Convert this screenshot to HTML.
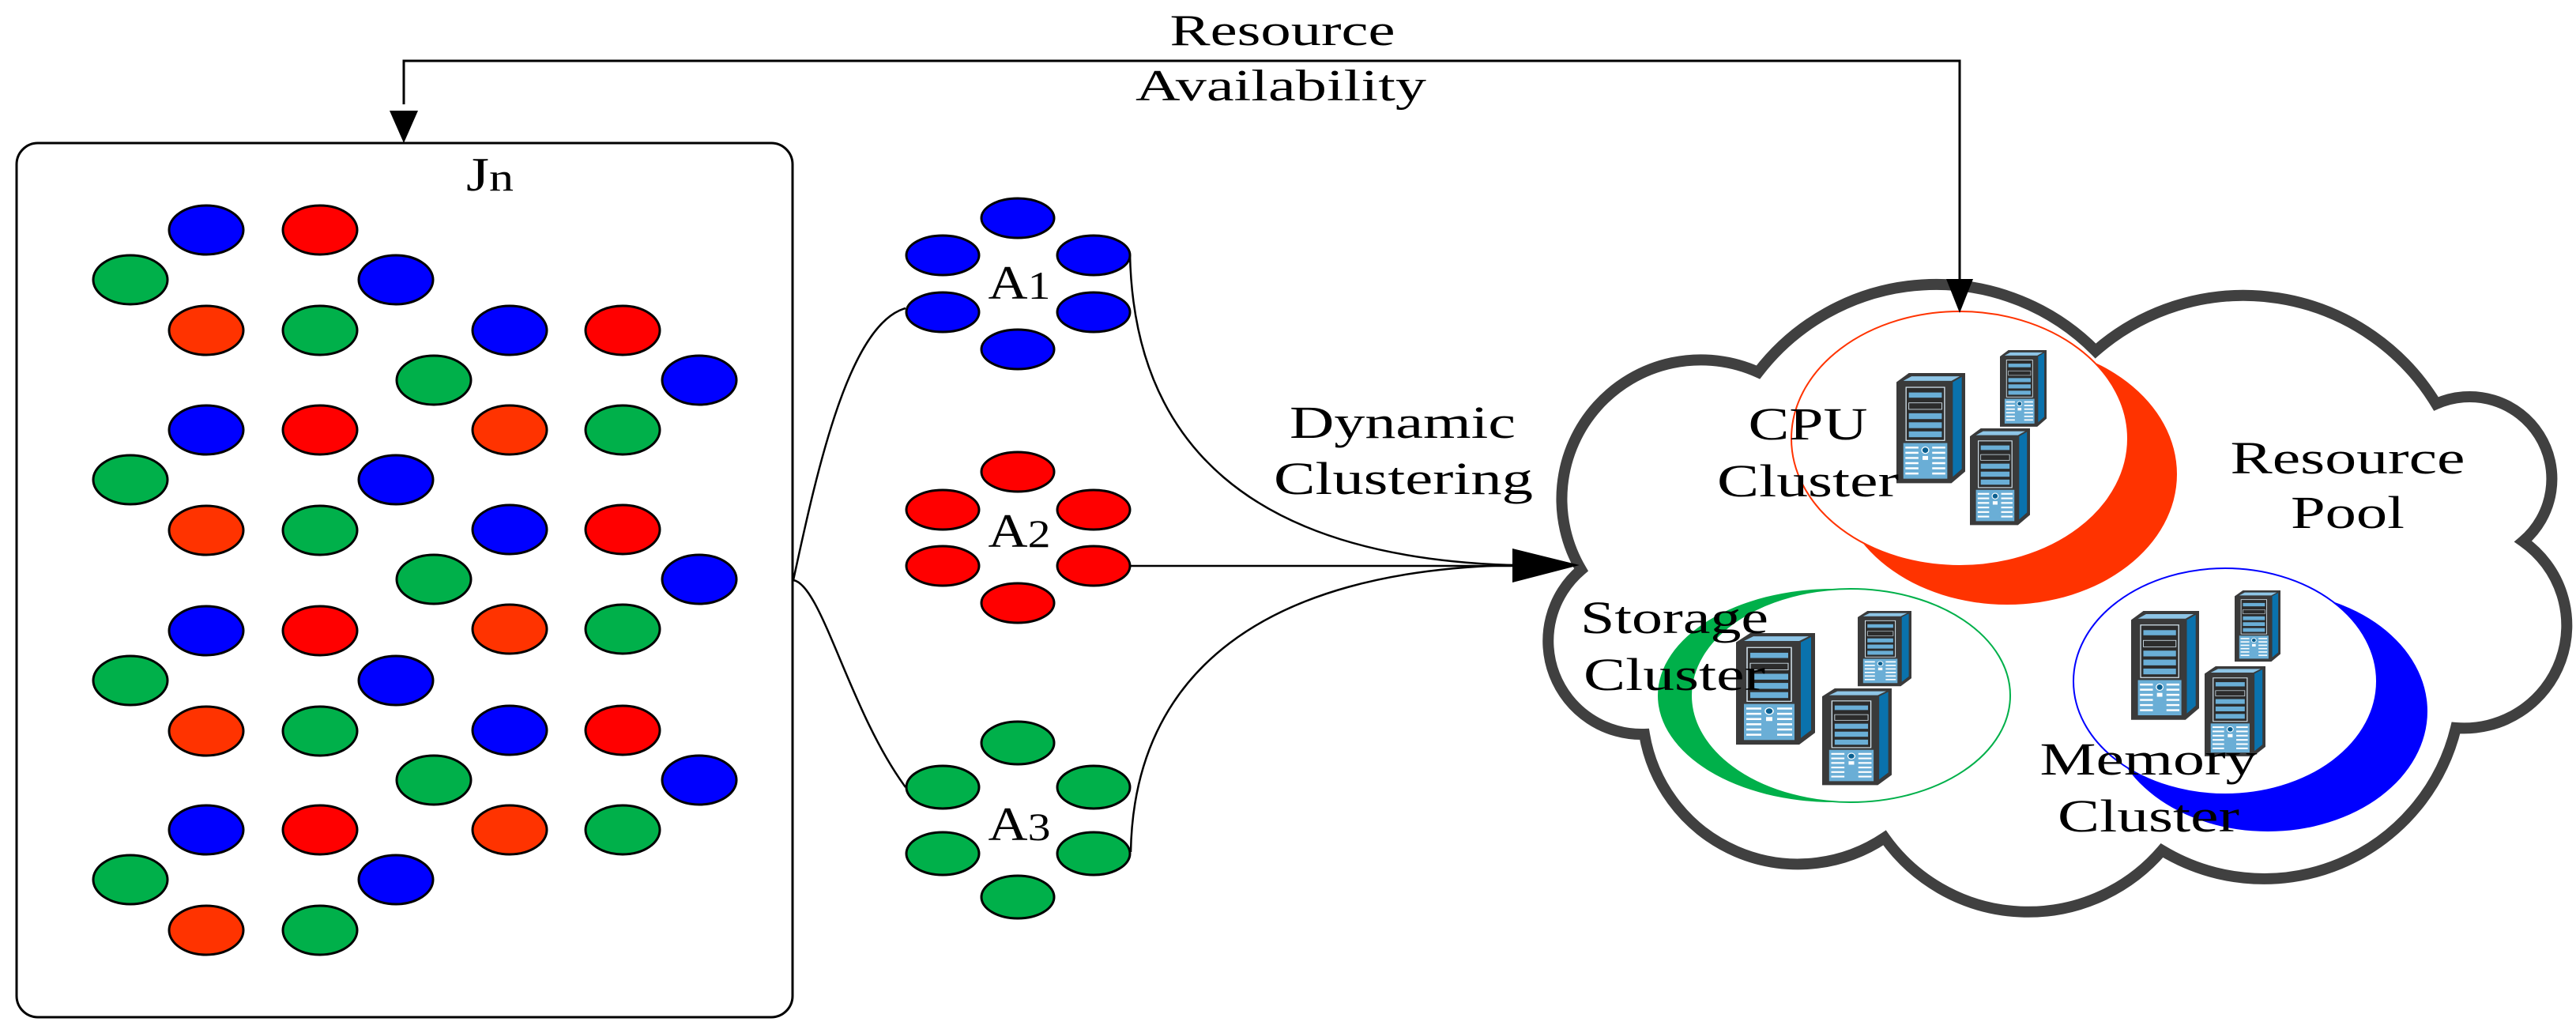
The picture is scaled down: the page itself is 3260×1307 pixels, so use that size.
<!DOCTYPE html>
<html><head><meta charset="utf-8"><style>
html,body{margin:0;padding:0;background:#fff;}
svg{display:block;}
text{font-family:"Liberation Serif",serif;fill:#000;}
</style></head><body>
<svg width="3260" height="1307" viewBox="0 0 3260 1307" xmlns="http://www.w3.org/2000/svg">
<defs>
<g id="srv">
  <polygon points="0,14 18,0 100,0 100,152 80,170 0,170" fill="#3a3a3a"/>
  <polygon points="10,12 22,5 92,5 80,12" fill="#8ec5e6"/>
  <polygon points="82,14 95,6 95,148 82,160" fill="#0a72ad"/>
  <rect x="8" y="18" width="68" height="145" fill="#3a3a3a"/>
  <rect x="14" y="22" width="56" height="82" fill="#2c2c2c" stroke="#d8e8f2" stroke-width="1.5"/>
  <rect x="18" y="30" width="48" height="8" fill="#6aaed6"/>
  <rect x="18" y="46" width="48" height="10" fill="#2c2c2c" stroke="#d8e8f2" stroke-width="1"/>
  <rect x="18" y="62" width="48" height="9" fill="#6aaed6"/>
  <rect x="18" y="76" width="48" height="9" fill="#6aaed6"/>
  <rect x="18" y="90" width="48" height="9" fill="#6aaed6"/>
  <rect x="10" y="108" width="64" height="55" fill="#6aaed6"/>
  <g stroke="#ffffff" stroke-width="3">
    <line x1="13" y1="115" x2="32" y2="115"/><line x1="13" y1="123" x2="32" y2="123"/><line x1="13" y1="131" x2="32" y2="131"/><line x1="13" y1="139" x2="32" y2="139"/><line x1="13" y1="147" x2="32" y2="147"/><line x1="13" y1="155" x2="32" y2="155"/>
    <line x1="52" y1="115" x2="71" y2="115"/><line x1="52" y1="123" x2="71" y2="123"/><line x1="52" y1="131" x2="71" y2="131"/><line x1="52" y1="139" x2="71" y2="139"/><line x1="52" y1="147" x2="71" y2="147"/><line x1="52" y1="155" x2="71" y2="155"/>
  </g>
  <circle cx="42" cy="119" r="5" fill="#0a5f90" stroke="#fff" stroke-width="1.5"/>
  <rect x="38" y="128" width="8" height="6" fill="#fff"/>
</g>
</defs>

<!-- top feedback line -->
<polyline points="511,132 511,77 2480,77 2480,356" fill="none" stroke="#000" stroke-width="3"/>
<polygon points="493,140 529,140 511,181" fill="#000"/>
<text x="1623" y="57" font-size="56" text-anchor="middle" textLength="285" lengthAdjust="spacingAndGlyphs">Resource</text>
<text x="1621" y="127" font-size="56" text-anchor="middle" textLength="368" lengthAdjust="spacingAndGlyphs">Availability</text>

<!-- Jn box -->
<rect x="21" y="181" width="982" height="1106" rx="27" ry="27" fill="#fff" stroke="#000" stroke-width="3"/>
<text x="620" y="241" font-size="60" text-anchor="middle" textLength="60" lengthAdjust="spacingAndGlyphs">J<tspan font-size="50">n</tspan></text>

<g id="grpA">
<ellipse cx="261" cy="291" rx="47" ry="31" fill="#0000ff" stroke="#000" stroke-width="3"/>
<ellipse cx="405" cy="291" rx="47" ry="31" fill="#ff0000" stroke="#000" stroke-width="3"/>
<ellipse cx="165" cy="354" rx="47" ry="31" fill="#00b04a" stroke="#000" stroke-width="3"/>
<ellipse cx="501" cy="354" rx="47" ry="31" fill="#0000ff" stroke="#000" stroke-width="3"/>
<ellipse cx="261" cy="418" rx="47" ry="31" fill="#ff3300" stroke="#000" stroke-width="3"/>
<ellipse cx="405" cy="418" rx="47" ry="31" fill="#00b04a" stroke="#000" stroke-width="3"/>
</g>
<use href="#grpA" transform="translate(0,253)"/>
<use href="#grpA" transform="translate(0,507)"/>
<use href="#grpA" transform="translate(0,759)"/>
<g id="grpB">
<ellipse cx="645" cy="418" rx="47" ry="31" fill="#0000ff" stroke="#000" stroke-width="3"/>
<ellipse cx="788" cy="418" rx="47" ry="31" fill="#ff0000" stroke="#000" stroke-width="3"/>
<ellipse cx="549" cy="481" rx="47" ry="31" fill="#00b04a" stroke="#000" stroke-width="3"/>
<ellipse cx="885" cy="481" rx="47" ry="31" fill="#0000ff" stroke="#000" stroke-width="3"/>
<ellipse cx="645" cy="544" rx="47" ry="31" fill="#ff3300" stroke="#000" stroke-width="3"/>
<ellipse cx="788" cy="544" rx="47" ry="31" fill="#00b04a" stroke="#000" stroke-width="3"/>
</g>
<use href="#grpB" transform="translate(0,252)"/>
<use href="#grpB" transform="translate(0,506)"/>

<!-- connectors -->
<g fill="none" stroke="#000" stroke-width="2.5">
<path d="M1004,734 C1035,590 1075,410 1146,390"/>
<path d="M1004,734 C1040,740 1075,900 1146,996"/>
<path d="M1430,322 C1435,560 1580,705 1914,715"/>
<path d="M1430,716 L1914,716"/>
<path d="M1431,1078 C1435,850 1600,722 1914,715"/>
</g>

<!-- A clusters -->
<g stroke="#000" stroke-width="3" fill="#0000ff">
<ellipse cx="1288" cy="276" rx="46" ry="25"/>
<ellipse cx="1193" cy="323" rx="46" ry="25"/>
<ellipse cx="1384" cy="323" rx="46" ry="25"/>
<ellipse cx="1193" cy="395" rx="46" ry="25"/>
<ellipse cx="1384" cy="395" rx="46" ry="25"/>
<ellipse cx="1288" cy="442" rx="46" ry="25"/>
</g>
<g stroke="#000" stroke-width="3" fill="#ff0000">
<ellipse cx="1288" cy="597" rx="46" ry="25"/>
<ellipse cx="1193" cy="645" rx="46" ry="25"/>
<ellipse cx="1384" cy="645" rx="46" ry="25"/>
<ellipse cx="1193" cy="716" rx="46" ry="25"/>
<ellipse cx="1384" cy="716" rx="46" ry="25"/>
<ellipse cx="1288" cy="763" rx="46" ry="25"/>
</g>
<g stroke="#000" stroke-width="3" fill="#00b04a">
<ellipse cx="1288" cy="940" rx="46" ry="27"/>
<ellipse cx="1193" cy="996" rx="46" ry="27"/>
<ellipse cx="1384" cy="996" rx="46" ry="27"/>
<ellipse cx="1193" cy="1080" rx="46" ry="27"/>
<ellipse cx="1384" cy="1080" rx="46" ry="27"/>
<ellipse cx="1288" cy="1135" rx="46" ry="27"/>
</g>
<text x="1290" y="378" font-size="60" text-anchor="middle" textLength="79" lengthAdjust="spacingAndGlyphs">A<tspan font-size="50">1</tspan></text>
<text x="1290" y="692" font-size="60" text-anchor="middle" textLength="79" lengthAdjust="spacingAndGlyphs">A<tspan font-size="50">2</tspan></text>
<text x="1290" y="1063" font-size="60" text-anchor="middle" textLength="79" lengthAdjust="spacingAndGlyphs">A<tspan font-size="50">3</tspan></text>

<text x="1775" y="554" font-size="58" text-anchor="middle" textLength="286" lengthAdjust="spacingAndGlyphs">Dynamic</text>
<text x="1776" y="625" font-size="58" text-anchor="middle" textLength="328" lengthAdjust="spacingAndGlyphs">Clustering</text>

<!-- cloud -->
<path d="M2001,721 A176,176 0 0 1 2225,471 A284,284 0 0 1 2652,444 A285,285 0 0 1 3083,511 A104,104 0 0 1 3193,685 A130,130 0 0 1 3108,921 A250,250 0 0 1 2736,1076 A223,223 0 0 1 2385,1060 A197,197 0 0 1 2081,929 A118,118 0 0 1 2001,721 Z" fill="#fff" stroke="#404040" stroke-width="14" stroke-linejoin="miter"/>

<!-- arrowheads over cloud -->
<polygon points="1914,694 1914,737 1999,715" fill="#000"/>

<!-- CPU cluster -->
<ellipse cx="2540" cy="600" rx="215" ry="165" fill="#ff3300"/>
<ellipse cx="2480" cy="555" rx="213" ry="161" fill="#fff" stroke="#ff3300" stroke-width="2"/>
<!-- Storage -->
<ellipse cx="2320" cy="880" rx="222" ry="135" fill="#00b04a"/>
<ellipse cx="2342" cy="880" rx="202" ry="135" fill="#fff" stroke="#00b04a" stroke-width="2"/>
<!-- Memory -->
<ellipse cx="2870" cy="900" rx="202" ry="152" fill="#0000ff"/>
<ellipse cx="2816" cy="862" rx="192" ry="143" fill="#fff" stroke="#0000ff" stroke-width="2"/>

<line x1="2480" y1="340" x2="2480" y2="360" stroke="#000" stroke-width="3"/>
<polygon points="2463,353 2497,353 2480,396" fill="#000"/>

<!-- servers -->
<use href="#srv" transform="translate(2400,472) scale(0.87,0.82)"/>
<use href="#srv" transform="translate(2531,443) scale(0.59,0.57)"/>
<use href="#srv" transform="translate(2493,542) scale(0.76,0.72)"/>
<use href="#srv" transform="translate(2197,801) scale(1.0,0.83)"/>
<use href="#srv" transform="translate(2351,773) scale(0.68,0.56)"/>
<use href="#srv" transform="translate(2306,871) scale(0.88,0.72)"/>
<use href="#srv" transform="translate(2697,773) scale(0.86,0.81)"/>
<use href="#srv" transform="translate(2828,747) scale(0.58,0.53)"/>
<use href="#srv" transform="translate(2790,843) scale(0.77,0.67)"/>

<!-- cloud labels -->
<text x="2288" y="556" font-size="58" text-anchor="middle" textLength="151" lengthAdjust="spacingAndGlyphs">CPU</text>
<text x="2288" y="628" font-size="58" text-anchor="middle" textLength="230" lengthAdjust="spacingAndGlyphs">Cluster</text>
<text x="2971" y="599" font-size="58" text-anchor="middle" textLength="297" lengthAdjust="spacingAndGlyphs">Resource</text>
<text x="2971" y="668" font-size="58" text-anchor="middle" textLength="144" lengthAdjust="spacingAndGlyphs">Pool</text>
<text x="2119" y="801" font-size="58" text-anchor="middle" textLength="238" lengthAdjust="spacingAndGlyphs">Storage</text>
<text x="2119" y="873" font-size="58" text-anchor="middle" textLength="230" lengthAdjust="spacingAndGlyphs">Cluster</text>
<text x="2719" y="980" font-size="58" text-anchor="middle" textLength="275" lengthAdjust="spacingAndGlyphs">Memory</text>
<text x="2719" y="1052" font-size="58" text-anchor="middle" textLength="230" lengthAdjust="spacingAndGlyphs">Cluster</text>
</svg>
</body></html>
